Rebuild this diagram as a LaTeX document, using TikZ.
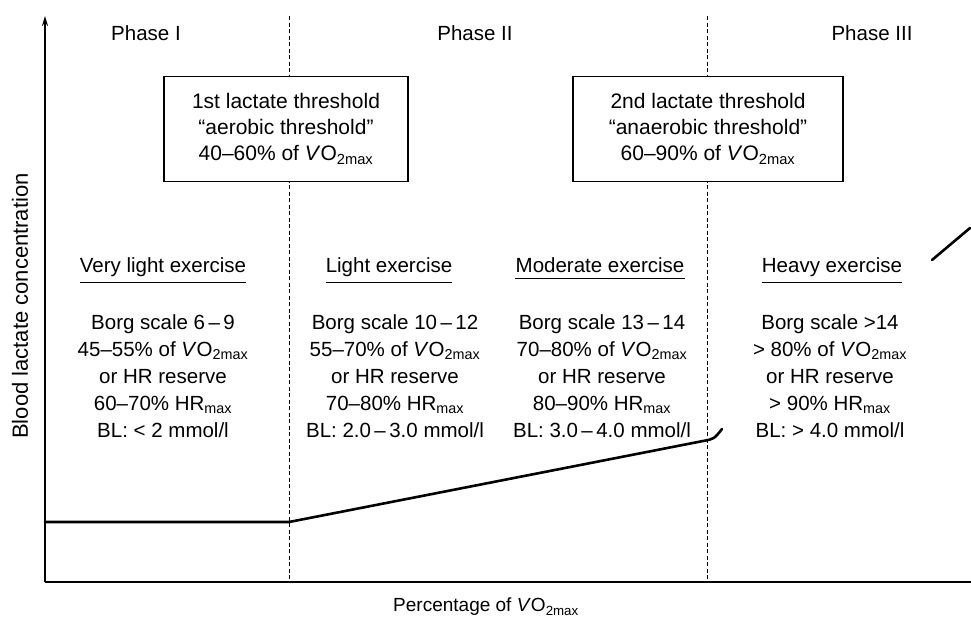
\documentclass[tikz,border=0pt]{standalone}
\usepackage{fontspec}
\setmainfont{Liberation Sans}
\usetikzlibrary{arrows.meta}
\newcommand{\vomax}{\textit{V}O\textsubscript{2max}}
\newcommand{\hrmx}{HR\textsubscript{max}}
\begin{document}
\begin{tikzpicture}[x=1pt,y=-1pt,
  lbl/.style={font=\fontsize{20.5}{27}\selectfont, align=center, inner sep=0pt},
  boxtext/.style={font=\fontsize{21}{26}\selectfont, align=center, inner sep=0pt},
  axisline/.style={line width=1.7pt},
  divider/.style={line width=1pt, dash pattern=on 4pt off 2.5pt},
  thresh/.style={boxtext, draw, line width=1.1pt, fill=white, minimum height=105pt},
  underl/.style={line width=1pt},
  lactate/.style={line width=2.6pt, line cap=round, line join=round}]
\useasboundingbox (0,0) rectangle (971,624);

% axes
\coordinate (origin) at (45,582);
\coordinate (ytop) at (45,16);
\coordinate (xend) at (971,582);
\draw[axisline, -{Stealth[length=10pt,width=6pt]}] (origin) -- (ytop);
\draw[axisline] (origin) -- (xend);

\node[lbl, font=\fontsize{22}{27}\selectfont, rotate=90] (ylab) at (20,306) {Blood lactate concentration};
\node[lbl, font=\fontsize{19}{24}\selectfont] (xlab) at (486,607) {Percentage of \vomax};

% phase dividers
\coordinate (d1top) at (289,16);
\coordinate (d1bot) at (289,582);
\coordinate (d2top) at (707,16);
\coordinate (d2bot) at (707,582);
\draw[divider] (d1top) -- (d1bot);
\draw[divider] (d2top) -- (d2bot);

% phase titles
\node[lbl] (p1) at (146,33) {Phase I};
\node[lbl] (p2) at (475,33) {Phase II};
\node[lbl] (p3) at (872,33) {Phase III};

% threshold boxes
\node[thresh, minimum width=244pt] (t1) at (286,129)
  {1st lactate threshold\\“aerobic threshold”\\40–60\% of \vomax};
\node[thresh, minimum width=270pt] (t2) at (708,129)
  {2nd lactate threshold\\“anaerobic threshold”\\60–90\% of \vomax};

% intensity headings
\node[lbl, anchor=base] (h1) at (163,272) {Very light exercise};
\node[lbl, anchor=base] (h2) at (389,272) {Light exercise};
\node[lbl, anchor=base] (h3) at (600,272) {Moderate exercise};
\node[lbl, anchor=base] (h4) at (832,272) {Heavy exercise};
\foreach \h in {h1,h2,h3,h4}
  \draw[underl] ([yshift=-6pt]\h.south west) -- ([yshift=-6pt]\h.south east);

% intensity descriptions
\node[lbl, anchor=north] (b1) at (163,314) {Borg scale 6\,–\,9\\45–55\% of \vomax\\or HR reserve\\60–70\% \hrmx\\BL: < 2 mmol/l};
\node[lbl, anchor=north] (b2) at (395,314) {Borg scale 10\,–\,12\\55–70\% of \vomax\\or HR reserve\\70–80\% \hrmx\\BL: 2.0\,–\,3.0 mmol/l};
\node[lbl, anchor=north] (b3) at (602,314) {Borg scale 13\,–\,14\\70–80\% of \vomax\\or HR reserve\\80–90\% \hrmx\\BL: 3.0\,–\,4.0 mmol/l};
\node[lbl, anchor=north] (b4) at (830,314) {Borg scale >14\\> 80\% of \vomax\\or HR reserve\\> 90\% \hrmx\\BL: > 4.0 mmol/l};

% lactate curve
\coordinate (c0) at (45,522);
\coordinate (c1) at (289,522);
\coordinate (c2) at (703,441);
\coordinate (c3) at (722,429);
\coordinate (c4) at (932,260);
\coordinate (c5) at (970,228);
\draw[lactate] (c0) -- (c1) -- (c2) .. controls (714,439) .. (c3);
\draw[lactate] (c4) -- (c5);
\end{tikzpicture}
\end{document}
